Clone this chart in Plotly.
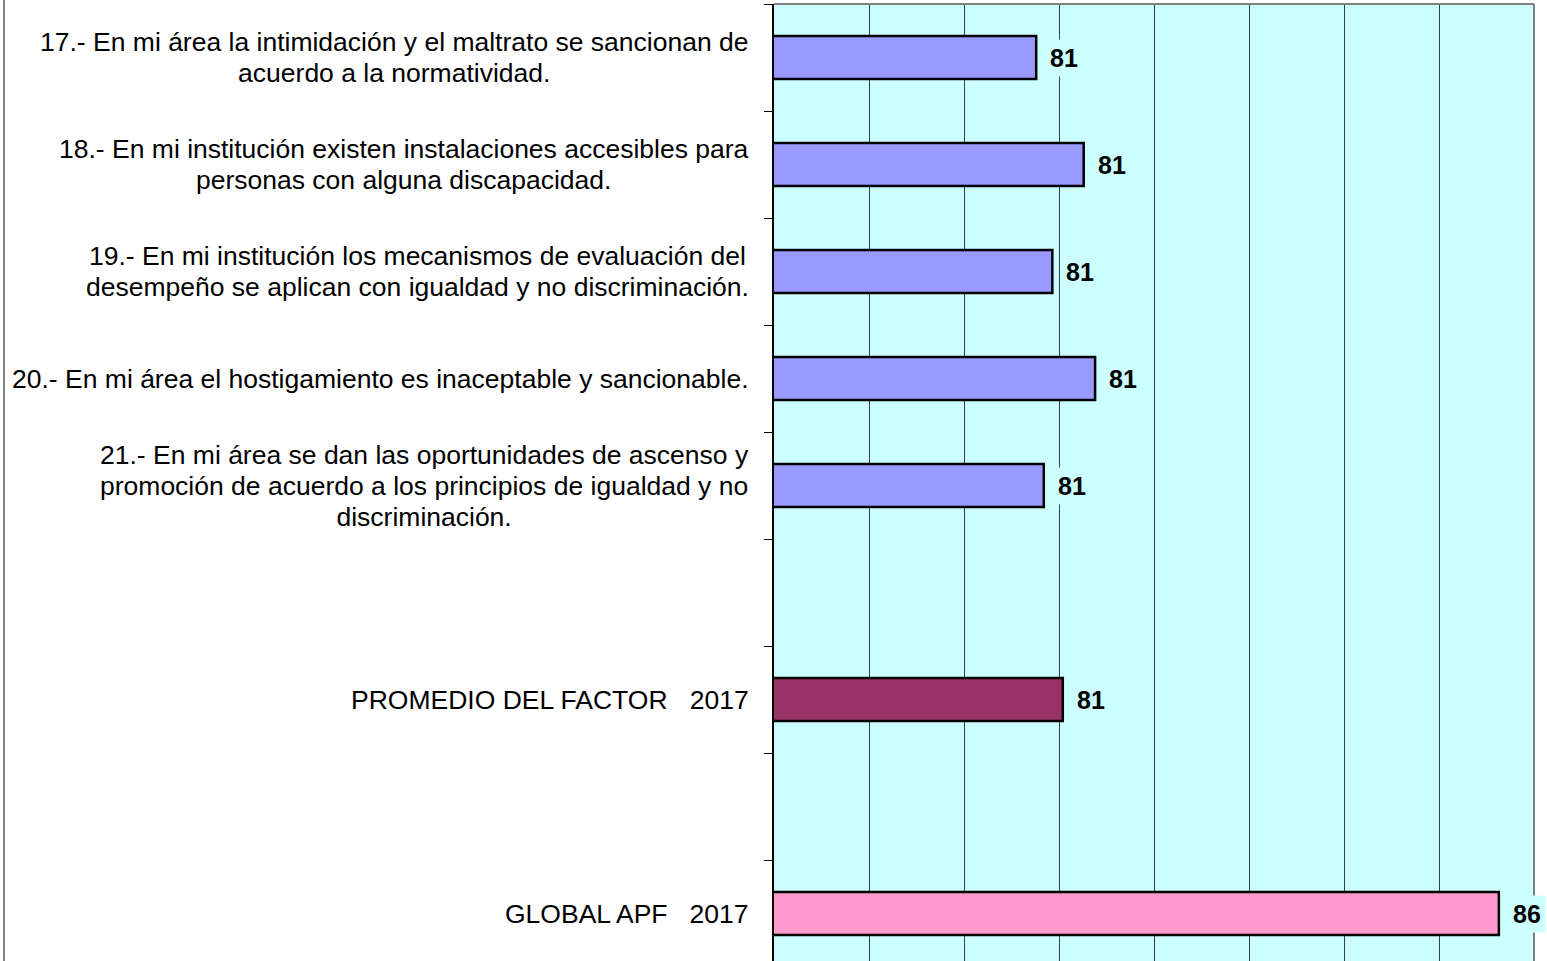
import plotly.graph_objects as go

# ---- data ----
categories = ["q17", "q18", "q19", "q20", "q21", "blank1", "promedio", "blank2", "global"]
labels = [
    ["17.- En mi área la intimidación y el maltrato se sancionan de", "acuerdo a la normatividad."],
    ["18.- En mi institución existen instalaciones accesibles para", "personas con alguna discapacidad."],
    ["19.- En mi institución los mecanismos de evaluación del", "desempeño se aplican con igualdad y no discriminación."],
    ["20.- En mi área el hostigamiento es inaceptable y sancionable."],
    ["21.- En mi área se dan las oportunidades de ascenso y",
     "promoción de acuerdo a los principios de igualdad y no", "discriminación."],
    [],
    ["PROMEDIO DEL FACTOR\u00a0\u00a0\u00a02017"],
    [],
    ["GLOBAL APF\u00a0\u00a0\u00a02017"],
]
bar_cats = ["q17", "q18", "q19", "q20", "q21", "promedio", "global"]
bar_values = [80.76, 81.26, 80.93, 81.38, 80.84, 81.04, 85.63]
bar_colors = ["#9999FF", "#9999FF", "#9999FF", "#9999FF", "#9999FF", "#993366", "#FF99CC"]
x_min, x_max = 78, 86

FONT = "Arial, Liberation Sans, sans-serif"

fig = go.Figure()
fig.add_trace(go.Bar(
    y=bar_cats, x=bar_values, orientation="h",
    marker=dict(color=bar_colors, line=dict(color="black", width=2.5)),
    width=0.4, hoverinfo="x+y",
))

annotations = []
for cat, lines in zip(categories, labels):
    if lines:
        text = "<br>".join('<span style="font-size:26.5px">%s</span>' % ln for ln in lines)
        annotations.append(dict(
            xref="paper", yref="y", x=0, y=cat, text=text,
            xanchor="right", yanchor="middle", xshift=-23, align="center",
            showarrow=False, font=dict(family=FONT, size=23.85, color="black"),
        ))
for cat, v in zip(bar_cats, bar_values):
    annotations.append(dict(
        xref="x", yref="y", x=v, y=cat, text="<b>%d</b>" % round(v),
        xanchor="left", yanchor="middle", xshift=9, showarrow=False,
        bgcolor="#CCFFFF", borderpad=4,
        font=dict(family=FONT, size=25, color="black"),
    ))

fig.update_layout(
    width=1547, height=961,
    margin=dict(l=774, r=13, t=4, b=0),
    paper_bgcolor="white", plot_bgcolor="#CCFFFF",
    showlegend=False,
    annotations=annotations,
    xaxis=dict(range=[x_min, x_max], dtick=1, showgrid=True, gridcolor="#344040",
               gridwidth=1, zeroline=False, showticklabels=False, ticks="",
               showline=False),
    yaxis=dict(type="category", categoryorder="array", categoryarray=categories,
               range=[-0.5 + 957 / 107, -0.5], tickson="boundaries", ticks="outside",
               ticklen=8, tickcolor="black", tickwidth=1, showticklabels=False,
               showgrid=False, showline=True, linecolor="black", linewidth=1.5,
               zeroline=False),
    shapes=[
        dict(type="line", xref="paper", yref="paper", x0=0, x1=1, y0=1, y1=1,
             line=dict(color="#808080", width=2)),
        dict(type="line", xref="paper", yref="paper", x0=1, x1=1, y0=0, y1=1,
             line=dict(color="#808080", width=2)),
        dict(type="line", xref="paper", yref="paper", x0=-770 / 760, x1=-770 / 760,
             y0=0, y1=1.01, line=dict(color="#808080", width=2)),
    ],
)

fig.write_html("out.html", config={"displayModeBar": False},
               post_script="document.body.style.margin='0';")
